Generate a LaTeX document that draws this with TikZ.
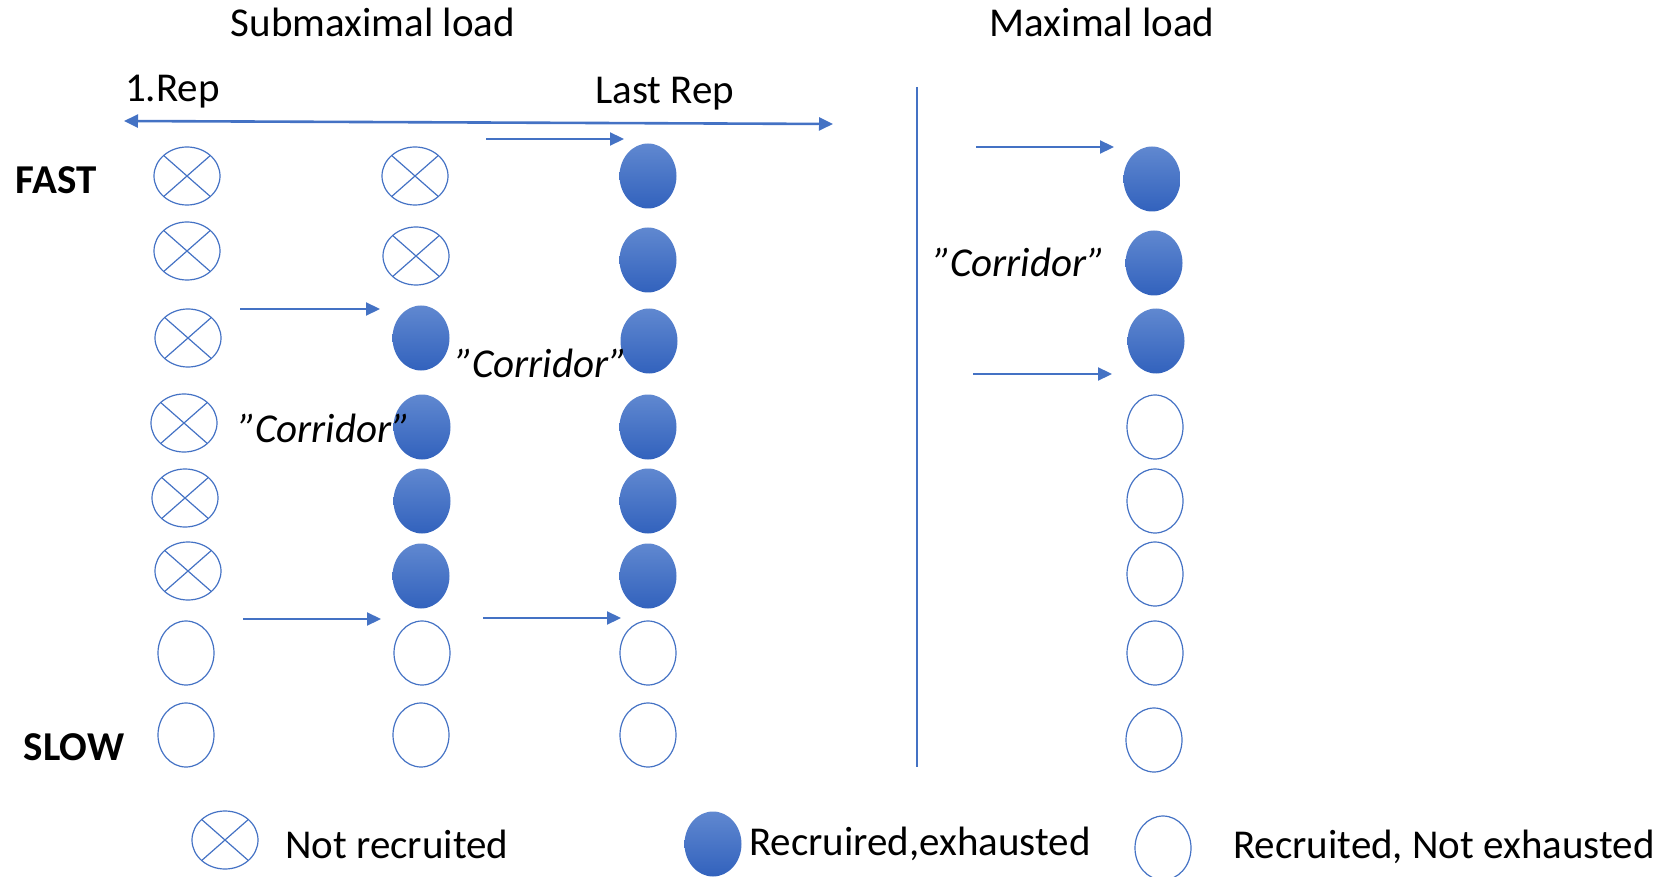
\documentclass[tikz,border=0pt]{standalone}
\usepackage{fontspec}
\setmainfont{Carlito}
\usetikzlibrary{shapes.geometric,arrows.meta}
\definecolor{mblue}{HTML}{4472C4}
\definecolor{ftop}{HTML}{6088D0}
\definecolor{fbot}{HTML}{3262BD}

\tikzset{
  unitbase/.style={ellipse, inner sep=0pt, draw=mblue, line width=1.2pt},
  notrec/.style={unitbase, minimum width=66pt, minimum height=58pt,
    path picture={\draw[mblue, line width=1.2pt]
      (path picture bounding box.north west) -- (path picture bounding box.south east)
      (path picture bounding box.north east) -- (path picture bounding box.south west);}},
  exh/.style={ellipse, inner sep=0pt, minimum width=57pt, minimum height=65pt,
    top color=ftop, bottom color=fbot, draw=none},
  fresh/.style={unitbase, minimum width=56pt, minimum height=64pt},
  push/.style={draw=mblue, line width=2.2pt, -{Triangle[length=14pt,width=13pt]}},
  span/.style={draw=mblue, line width=2.6pt, {Triangle[length=14pt,width=13pt]}-{Triangle[length=14pt,width=13pt]}},
  lbl/.style={font=\fontsize{41}{49}\selectfont, inner sep=0pt},
  bold/.style={lbl, font=\fontsize{41}{49}\selectfont\bfseries},
  corr/.style={lbl, font=\fontsize{41}{49}\selectfont\itshape},
}

\begin{document}
\begin{tikzpicture}[x=1pt, y=-1pt]
\useasboundingbox (0,0) rectangle (1668,877);

% headings
\node[lbl, anchor=base] (hsub) at (373,37) {Submaximal load};
\node[lbl, anchor=base] (hmax) at (1102,37) {Maximal load};
\node[lbl, anchor=base west] (first) at (125,102) {1.Rep};
\node[lbl, anchor=base west] (last) at (595,104) {Last Rep};
\node[bold, anchor=base] (fast) at (56,194) {FAST};
\node[bold, anchor=base] (slow) at (74,760) {SLOW};

% repetition axis and separator
\coordinate (axL) at (124,121);
\coordinate (axR) at (833,124);
\draw[span] (axL) -- (axR);
\coordinate (sepT) at (917,87);
\coordinate (sepB) at (917,767);
\draw[mblue, line width=2.4pt] (sepT) -- (sepB);

% column 1: first repetition
\node[notrec] (a1) at (187,176) {};
\node[notrec] (a2) at (187,251) {};
\node[notrec] (a3) at (188,338) {};
\node[notrec] (a4) at (184,423) {};
\node[notrec] (a5) at (185,498) {};
\node[notrec] (a6) at (188,571) {};
\node[fresh]  (a7) at (186,653) {};
\node[fresh]  (a8) at (186,735) {};

% column 2: middle repetition
\node[notrec] (b1) at (415,176) {};
\node[notrec] (b2) at (416,256) {};
\node[exh]    (b3) at (421,338) {};
\node[exh]    (b4) at (422,427) {};
\node[exh]    (b5) at (422,501) {};
\node[exh]    (b6) at (421,576) {};
\node[fresh]  (b7) at (422,653) {};
\node[fresh]  (b8) at (421,735) {};

% column 3: last repetition
\node[exh]   (c1) at (648,176) {};
\node[exh]   (c2) at (648,260) {};
\node[exh]   (c3) at (649,341) {};
\node[exh]   (c4) at (648,427) {};
\node[exh]   (c5) at (648,501) {};
\node[exh]   (c6) at (648,576) {};
\node[fresh] (c7) at (648,653) {};
\node[fresh] (c8) at (648,735) {};

% column 4: maximal load
\node[exh]   (d1) at (1152,179) {};
\node[exh]   (d2) at (1154,263) {};
\node[exh]   (d3) at (1156,341) {};
\node[fresh] (d4) at (1155,427) {};
\node[fresh] (d5) at (1155,501) {};
\node[fresh] (d6) at (1155,574) {};
\node[fresh] (d7) at (1155,653) {};
\node[fresh] (d8) at (1154,740) {};

% corridor boundaries
\coordinate (p1s) at (486,139);  \coordinate (p1e) at (624,139);
\coordinate (p2s) at (240,309);  \coordinate (p2e) at (380,309);
\coordinate (p3s) at (243,619);  \coordinate (p3e) at (381,619);
\coordinate (p4s) at (483,618);  \coordinate (p4e) at (621,618);
\coordinate (p5s) at (976,147);  \coordinate (p5e) at (1114,147);
\coordinate (p6s) at (973,374);  \coordinate (p6e) at (1112,374);
\draw[push] (p1s) -- (p1e);
\draw[push] (p2s) -- (p2e);
\draw[push] (p3s) -- (p3e);
\draw[push] (p4s) -- (p4e);
\draw[push] (p5s) -- (p5e);
\draw[push] (p6s) -- (p6e);

% corridor labels
\node[corr] (k1) at (325,428) {”Corridor”};
\node[corr] (k2) at (542,363) {”Corridor”};
\node[corr] (k3) at (1020,262) {”Corridor”};

% legend
\node[notrec] (l1) at (225,840) {};
\node[lbl, anchor=base west] (t1) at (285,858) {Not recruited};
\node[exh] (l2) at (713,844) {};
\node[lbl, anchor=base west] (t2) at (749,855) {Recruired,exhausted};
\node[fresh] (l3) at (1163,848) {};
\node[lbl, anchor=base west] (t3) at (1233,858) {Recruited, Not exhausted};
\end{tikzpicture}
\end{document}
